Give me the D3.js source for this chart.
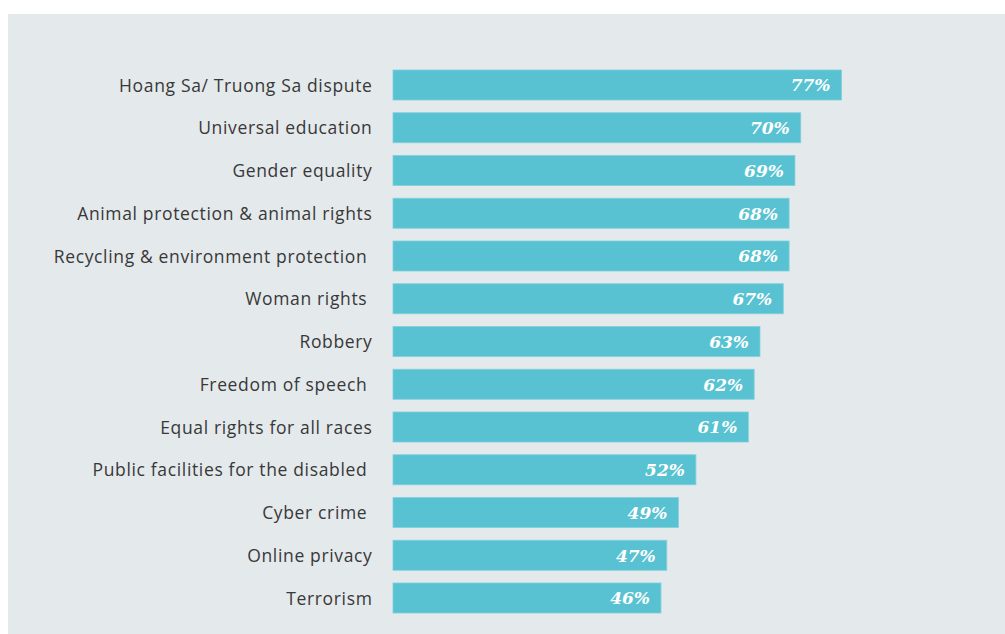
<!DOCTYPE html>
<html>
<head>
<meta charset="utf-8">
<script src="https://cdn.jsdelivr.net/npm/d3@7"></script>
<style>
  html, body { margin: 0; padding: 0; background: #ffffff; }
  svg { display: block; }
  .cat { white-space: pre; }
</style>
</head>
<body>
<svg id="chart" width="1005" height="634"></svg>
<script>
// Share of respondents who care about each social issue (%)
const categories = [
  "Hoang Sa/ Truong Sa dispute",
  "Universal education",
  "Gender equality",
  "Animal protection & animal rights",
  "Recycling & environment protection ",
  "Woman rights ",
  "Robbery",
  "Freedom of speech ",
  "Equal rights for all races",
  "Public facilities for the disabled ",
  "Cyber crime ",
  "Online privacy",
  "Terrorism"
];
const values = [77, 70, 69, 68, 68, 67, 63, 62, 61, 52, 49, 47, 46];

const W = 1005, H = 634;
const svg = d3.select("#chart");

// background panel
svg.append("rect")
  .attr("x", 8).attr("y", 14)
  .attr("width", W - 8).attr("height", H - 14)
  .attr("fill", "#e4e9ec");

const x = d3.scaleLinear().domain([0, 100]).range([393, 975.5]);
const y = d3.scaleBand()
  .domain(categories)
  .range([70, 613])
  .paddingInner(0.298)
  .paddingOuter(0);

const data = categories.map((c, i) => ({ cat: c, v: values[i] }));

// bars
svg.append("g").selectAll("rect")
  .data(data)
  .join("rect")
  .attr("x", x(0))
  .attr("y", d => y(d.cat))
  .attr("width", d => x(d.v) - x(0))
  .attr("height", y.bandwidth())
  .attr("fill", "#58c2d2")
  .attr("stroke", "#7fd0dc")
  .attr("stroke-width", 0.8);

// category labels
svg.append("g").selectAll("text")
  .data(data)
  .join("text")
  .attr("class", "cat")
  .attr("x", 372.5)
  .attr("y", d => y(d.cat) + y.bandwidth() / 2)
  .attr("dy", "0.38em")
  .attr("text-anchor", "end")
  .attr("font-family", "'Open Sans', Lato, sans-serif")
  .attr("font-size", 17.5)
  .attr("letter-spacing", "0.65px")
  .attr("fill", "#383838")
  .text(d => d.cat);

// value labels inside bars
svg.append("g").selectAll("text")
  .data(data)
  .join("text")
  .attr("x", d => x(d.v) - 11)
  .attr("y", d => y(d.cat) + y.bandwidth() / 2)
  .attr("dy", "0.38em")
  .attr("text-anchor", "end")
  .attr("font-family", "'DejaVu Serif', 'Liberation Serif', serif")
  .attr("font-style", "italic")
  .attr("font-weight", "bold")
  .attr("font-size", 17)
  .attr("fill", "#ffffff")
  .text(d => d.v + "%");
</script>
</body>
</html>
